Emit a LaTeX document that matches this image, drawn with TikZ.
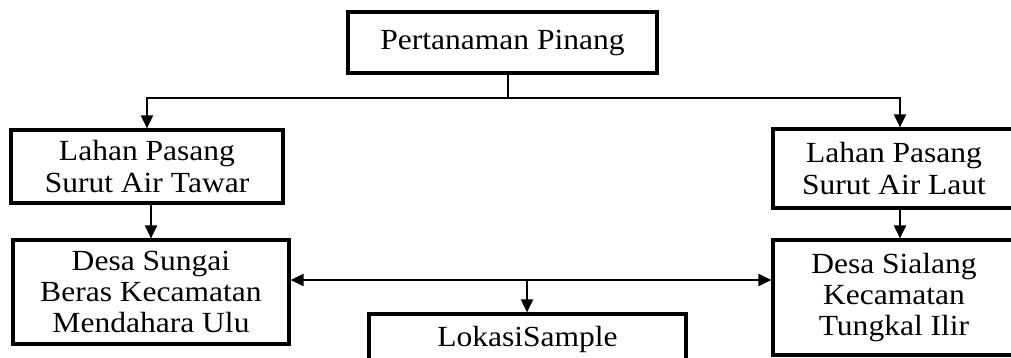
\documentclass[tikz,border=0pt]{standalone}
\usepackage{fontspec}
\setmainfont[FakeStretch=1.08]{Liberation Serif}
\usetikzlibrary{arrows.meta}

\begin{document}
\begin{tikzpicture}[x=0.5pt, y=-0.5pt, every node/.style={font=\fontsize{14.6}{15.6}\selectfont},
    kotak/.style={draw, line width=1.6pt, align=center, inner sep=0pt},
    garis/.style={line width=1pt},
    panah/.style={garis, -{Triangle[length=6.5pt,width=6pt]}}]
    \useasboundingbox (0,0) rectangle (1011,358);
    % kotak-kotak
    \node[kotak, minimum width=154.5pt, minimum height=30.5pt] (pinang) at (502.5,42.5) {Pertanaman Pinang};
    \node[kotak, minimum width=136pt, minimum height=36.5pt] (tawar) at (147,166.5) {Lahan Pasang\\Surut Air Tawar};
    \node[kotak, minimum width=121pt, minimum height=39.5pt] (laut) at (894,168.5) {Lahan Pasang\\Surut Air Laut};
    \node[kotak, minimum width=138pt, minimum height=52pt] (sungai) at (151,292) {Desa Sungai\\Beras Kecamatan\\Mendahara Ulu};
    \node[kotak, minimum width=121pt, minimum height=57.5pt] (sialang) at (894,297.5) {Desa Sialang\\Kecamatan\\Tungkal Ilir};
    \node[kotak, minimum width=158.5pt, minimum height=25pt] (lokasi) at (527.5,339) {LokasiSample};
    % garis penghubung
    \coordinate (cabang) at (508,98);
    \coordinate (tengah) at (527,280);
    \draw[garis] ([xshift=2.75pt]pinang.south) -- (cabang);
    \draw[panah] (cabang) -| (tawar.north);
    \draw[panah] (cabang) -| ([xshift=3pt]laut.north);
    \draw[panah] (tawar.south -| sungai.north) -- (sungai.north);
    \draw[panah] ([xshift=3pt]laut.south) -- ([xshift=3pt]sialang.north);
    \draw[panah] (tengah) -- (tengah -| sungai.east);
    \draw[panah] (tengah) -- (tengah -| sialang.west);
    \draw[panah] (tengah) -- (tengah |- lokasi.north);
\end{tikzpicture}
\end{document}
